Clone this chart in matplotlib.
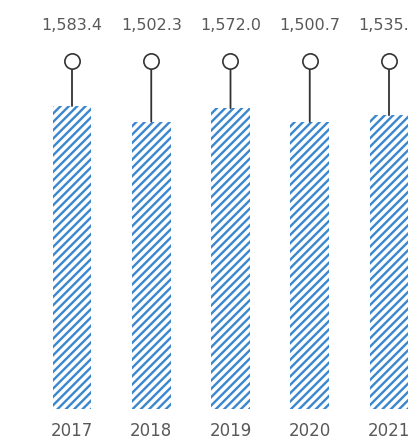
import matplotlib
matplotlib.use("Agg")
import matplotlib.pyplot as plt
import numpy as np

years = ["2017", "2018", "2019", "2020", "2021"]
values = [1583.4, 1502.3, 1572.0, 1500.7, 1535.4]

plt.rcParams["hatch.linewidth"] = 1.7
plt.rcParams["hatch.color"] = "#3b87cf"
plt.rcParams["font.family"] = ["DejaVu Sans"]

fig = plt.figure(figsize=(4.10, 4.39), dpi=100)
ax = fig.add_axes([0, 29 / 439, 1, 410 / 439])

x = np.arange(len(years))
ax.bar(x, values, width=0.49, color="white", edgecolor="#3b87cf",
       hatch="////", linewidth=0)

trans = ax.get_xaxis_transform()
marker_y = 0.849
label_y = 0.937
for xi, v in zip(x, values):
    ax.annotate("", xy=(xi, v), xytext=(xi, marker_y), textcoords=trans,
                arrowprops=dict(arrowstyle="-", color="#333333", lw=1.3,
                                shrinkA=0, shrinkB=0))
    ax.plot(xi, marker_y, marker="o", ms=11, mfc="white", mec="#333333",
            mew=1.2, transform=trans, zorder=5, clip_on=False)
    ax.text(xi, label_y, f"{v:,.1f}", transform=trans, ha="center",
            va="center", fontsize=11.5, color="#595959")

ax.set_xlim(-0.9085, 4.265)
ax.set_ylim(0, 2142.6)
ax.set_xticks(x)
ax.set_xticklabels(years, fontsize=12, color="#595959")
ax.tick_params(axis="x", length=0, pad=9)
ax.set_yticks([])
for s in ax.spines.values():
    s.set_visible(False)

fig.savefig("out.png", dpi=100)
